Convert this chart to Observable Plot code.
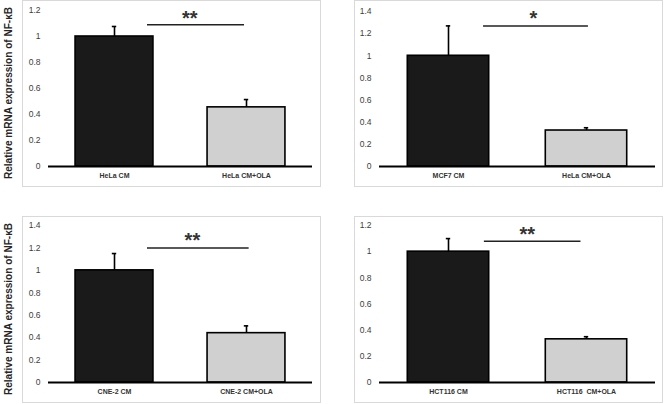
<!DOCTYPE html>
<html>
<head>
<meta charset="utf-8">
<script src="https://cdn.jsdelivr.net/npm/d3@7"></script>
<script src="https://cdn.jsdelivr.net/npm/@observablehq/plot@0.6"></script>
<style>
  html, body { margin: 0; padding: 0; background: #fff; }
  #root { position: relative; width: 666px; height: 404px; overflow: hidden; background: #fff; font-family: "Liberation Sans", Arial, sans-serif; }
  .panel { position: absolute; border: 1px solid #d9d9d9; box-sizing: border-box; background: #fff; }
  .panel svg { position: absolute; left: 0; top: 0; }
  .ytitle { position: absolute; overflow: visible; }
</style>
</head>
<body>
<div id="root"></div>
<script>
// ---- data ----
const yTitle = "Relative mRNA expression of NF-κB";

const catsA = ["HeLa CM", "HeLa CM+OLA"];
const valsA = [1.0, 0.455];
const errsA = [0.077, 0.06];
const sigA = { x1: 0.25, x2: 0.985, y: 1.09, label: "**", lx: 0.57, ly: 1.18 };
const ymaxA = 1.2;

const catsB = ["MCF7 CM", "HeLa CM+OLA"];
const valsB = [1.0, 0.325];
const errsB = [0.27, 0.025];
const sigB = { x1: 0.254, x2: 1.014, y: 1.27, label: "*", lx: 0.616, ly: 1.38 };
const ymaxB = 1.4;

const catsC = ["CNE-2 CM", "CNE-2 CM+OLA"];
const valsC = [1.0, 0.44];
const errsC = [0.15, 0.065];
const sigC = { x1: 0.25, x2: 1.02, y: 1.2, label: "**", lx: 0.59, ly: 1.31 };
const ymaxC = 1.4;

const catsD = ["HCT116 CM", "HCT116  CM+OLA"];
const valsD = [1.0, 0.33];
const errsD = [0.1, 0.02];
const sigD = { x1: 0.26, x2: 0.96, y: 1.08, label: "**", lx: 0.57, ly: 1.17 };
const ymaxD = 1.2;

const barFills = ["#1a1a1a", "#d0d0d0"];

// ---- layout (absolute pixels) ----
const panels = [
  { cats: catsA, vals: valsA, errs: errsA, sig: sigA, ymax: ymaxA, left: 22, top: 0, w: 299, h: 187, px0: 48, px1: 312, py0: 166, pyTop: 10 },
  { cats: catsB, vals: valsB, errs: errsB, sig: sigB, ymax: ymaxB, left: 354, top: 0, w: 309, h: 187, px0: 379, px1: 655, py0: 166, pyTop: 11 },
  { cats: catsC, vals: valsC, errs: errsC, sig: sigC, ymax: ymaxC, left: 22, top: 216, w: 299, h: 187, px0: 48, px1: 312, py0: 382, pyTop: 225 },
  { cats: catsD, vals: valsD, errs: errsD, sig: sigD, ymax: ymaxD, left: 354, top: 216, w: 309, h: 187, px0: 379, px1: 655, py0: 382, pyTop: 225 }
];

const root = document.getElementById("root");
const fmt = d3.format("~g");

for (const p of panels) {
  const div = document.createElement("div");
  div.className = "panel";
  div.style.left = p.left + "px";
  div.style.top = p.top + "px";
  div.style.width = p.w + "px";
  div.style.height = p.h + "px";
  const svgW = p.w - 2, svgH = p.h - 2;
  const ox = p.left + 1, oy = p.top + 1;
  const rows = p.cats.map((c, i) => ({ i, cat: c, v: p.vals[i], e: p.errs[i], fill: barFills[i] }));
  const yticks = d3.range(0, p.ymax + 1e-9, 0.2).map(v => +v.toFixed(1));
  const chart = Plot.plot({
    width: svgW,
    height: svgH,
    marginLeft: p.px0 - ox,
    marginRight: ox + svgW - p.px1,
    marginTop: p.pyTop - oy,
    marginBottom: oy + svgH - p.py0,
    style: { fontFamily: "'Liberation Sans', Arial, sans-serif", background: "transparent", overflow: "visible" },
    x: { type: "linear", domain: [-0.5, 1.5] },
    y: { domain: [0, p.ymax] },
    marks: [
      Plot.axisY({ ticks: yticks, tickFormat: fmt, tickSize: 0, tickPadding: 8, fontSize: 8.5, fill: "#404040", label: null }),
      Plot.axisX({ ticks: [0, 1], tickFormat: i => p.cats[i], tickSize: 0, tickPadding: 7, fontSize: 7, fontWeight: "bold", fill: "#333", label: null }),
      Plot.rectY(rows, { x1: d => d.i - 0.295, x2: d => d.i + 0.295, y1: 0, y2: "v", fill: "fill", stroke: "#000", strokeWidth: 1.6 }),
      Plot.ruleX(rows, { x: "i", y1: "v", y2: d => d.v + d.e, stroke: "#000", strokeWidth: 1.6 }),
      Plot.ruleY(rows, { x1: "i", x2: "i", y: d => d.v + d.e, stroke: "#000", strokeWidth: 1.6, insetLeft: -2.2, insetRight: -2.2 }),
      Plot.ruleY([0], { stroke: "#000", strokeWidth: 2 }),
      Plot.ruleY([p.sig], { x1: "x1", x2: "x2", y: "y", stroke: "#222", strokeWidth: 1.5 }),
      Plot.text([p.sig], { x: "lx", y: "ly", text: "label", fontSize: 20, fontWeight: "bold", fill: "#333", dy: 5, textAnchor: "middle" })
    ]
  });
  div.appendChild(chart);
  root.appendChild(div);
}

// y titles
const titleSpecs = [{ top: 0, cy: 93 }, { top: 212, cy: 309 }];
for (const s of titleSpecs) {
  const ns = "http://www.w3.org/2000/svg";
  const svg = document.createElementNS(ns, "svg");
  svg.setAttribute("width", 20);
  svg.setAttribute("height", 192);
  svg.setAttribute("class", "ytitle");
  svg.style.left = "0px";
  svg.style.top = s.top + "px";
  const t = document.createElementNS(ns, "text");
  t.setAttribute("transform", `translate(12,${s.cy - s.top}) rotate(-90)`);
  t.setAttribute("text-anchor", "middle");
  t.setAttribute("font-family", "'Liberation Sans', Arial, sans-serif");
  t.setAttribute("font-size", "10.5");
  t.setAttribute("font-weight", "bold");
  t.setAttribute("fill", "#262626");
  t.setAttribute("textLength", "172");
  t.setAttribute("lengthAdjust", "spacingAndGlyphs");
  t.textContent = yTitle;
  svg.appendChild(t);
  root.appendChild(svg);
}
</script>
</body>
</html>
